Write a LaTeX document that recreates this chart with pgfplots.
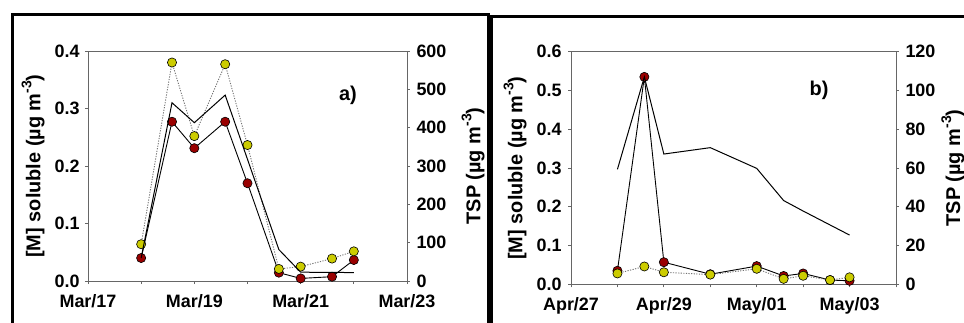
\documentclass[border=0pt]{standalone}
\usepackage{pgfplots}
\pgfplotsset{compat=1.18}
\usepackage{fontspec}
\setmainfont{Liberation Sans}
\definecolor{mred}{RGB}{153,0,0}
\definecolor{myel}{RGB}{204,204,0}
\newcommand{\supm}{\raisebox{0.45em}{\fontsize{14}{14}\selectfont -3}}
\pgfplotsset{
  base/.style={
    scale only axis, tick align=outside,
    major tick length=3bp, minor tick length=3bp,
    axis line style={black!60, line width=0.8bp},
    every tick/.style={black!60, line width=0.8bp},
    tick label style={font=\fontsize{18}{18}\selectfont\bfseries},
    label style={font=\fontsize{20}{20}\selectfont\bfseries},
    /pgf/number format/assume math mode=true,
    clip=false,
  },
  redser/.style={black, line width=0.9bp, mark=*, mark size=4.6bp,
    mark options={solid, fill=mred, draw=black, line width=0.6bp}},
  yelser/.style={black!55, line width=0.9bp, dash pattern=on 1.2bp off 1.4bp, mark=*, mark size=4.6bp,
    mark options={solid, fill=myel, draw=black, line width=0.6bp}},
  tspser/.style={black, line width=1bp, no marks},
}
\begin{document}
\begin{tikzpicture}
\useasboundingbox (0bp,0bp) rectangle (964bp,-323bp);
% frames
\draw[line width=2.6bp] (12.5bp,-400bp) -- (12.5bp,-14.3bp) -- (488.5bp,-14.3bp) -- (488.5bp,-400bp);
\draw[line width=2.6bp] (491.2bp,-400bp) -- (491.2bp,-16.2bp) -- (1000bp,-16.2bp);

% ---------- panel a ----------
\begin{axis}[base, at={(88bp,-281bp)}, anchor=south west, width=319bp, height=230bp,
  xmin=0, xmax=6, ymin=0, ymax=0.4,
  xtick={0,2,4,6}, minor xtick={1,3,5}, xticklabels={Mar/17,Mar/19,Mar/21,Mar/23},
  ytick={0,0.1,0.2,0.3,0.4},
  yticklabel style={/pgf/number format/fixed, /pgf/number format/fixed zerofill, /pgf/number format/precision=1},
  xtick pos=bottom, ytick pos=left,
  x tick label style={yshift=-7bp}, y tick label style={xshift=-2bp},
  ylabel={[M] soluble (µg m\supm)},
  ylabel style={at={(axis description cs:-0.172,0.5)}, anchor=center}]
\addplot[redser] coordinates {(1,0.040) (1.58,0.277) (2,0.231) (2.58,0.277) (3,0.170) (3.59,0.0145) (4,0.0045) (4.59,0.0075) (5,0.0365)};
\addplot[yelser] coordinates {(1,0.064) (1.58,0.380) (2,0.252) (2.58,0.377) (3,0.2365) (3.59,0.021) (4,0.025) (4.59,0.039) (5,0.0516)};
\node[font=\fontsize{20}{20}\selectfont\bfseries] at (axis description cs:0.815,0.809) {a)};
\end{axis}
\begin{axis}[base, at={(88bp,-281bp)}, anchor=south west, width=319bp, height=230bp,
  xmin=0, xmax=6, ymin=0, ymax=600,
  axis x line=none, axis y line*=right,
  ytick={0,100,200,300,400,500,600},
  y tick label style={xshift=3bp},
  ylabel={TSP (µg m\supm)},
  ylabel style={at={(axis description cs:1.207,0.5)}, anchor=center}]
\addplot[tspser] coordinates {(1,60) (1.58,465) (2,413) (2.58,485) (3.59,82) (4,23) (5,22)};
\end{axis}

% ---------- panel b ----------
\begin{axis}[base, at={(571bp,-284.3bp)}, anchor=south west, width=325bp, height=232.6bp,
  xmin=0, xmax=7, ymin=0, ymax=0.6,
  xtick={0,2,4,6}, minor xtick={1,3,5,7}, xticklabels={Apr/27,Apr/29,May/01,May/03},
  ytick={0,0.1,0.2,0.3,0.4,0.5,0.6},
  yticklabel style={/pgf/number format/fixed, /pgf/number format/fixed zerofill, /pgf/number format/precision=1},
  xtick pos=bottom, ytick pos=left,
  x tick label style={yshift=-7bp}, y tick label style={xshift=-3bp},
  ylabel={[M] soluble (µg m\supm)},
  ylabel style={at={(axis description cs:-0.172,0.5)}, anchor=center}]
\addplot[redser] coordinates {(1,0.035) (1.58,0.535) (2,0.057) (3,0.026) (4,0.047) (4.58,0.0215) (5,0.028) (5.58,0.011) (6,0.009)};
\addplot[yelser] coordinates {(1,0.028) (1.58,0.046) (2,0.031) (3,0.025) (4,0.040) (4.58,0.014) (5,0.022) (5.58,0.011) (6,0.018)};
\node[font=\fontsize{20}{20}\selectfont\bfseries] at (axis description cs:0.763,0.835) {b)};
\end{axis}
\begin{axis}[base, at={(571bp,-284.3bp)}, anchor=south west, width=325bp, height=232.6bp,
  xmin=0, xmax=7, ymin=0, ymax=120,
  axis x line=none, axis y line*=right,
  ytick={0,20,40,60,80,100,120},
  y tick label style={xshift=3bp},
  ylabel={TSP (µg m\supm)},
  ylabel style={at={(axis description cs:1.175,0.5)}, anchor=center}]
\addplot[tspser] coordinates {(1,59.3) (1.58,107) (2,67.2) (3,70.5) (4,59.8) (4.58,43.2) (5,37.8) (6,25.4)};
\end{axis}
\end{tikzpicture}
\end{document}
